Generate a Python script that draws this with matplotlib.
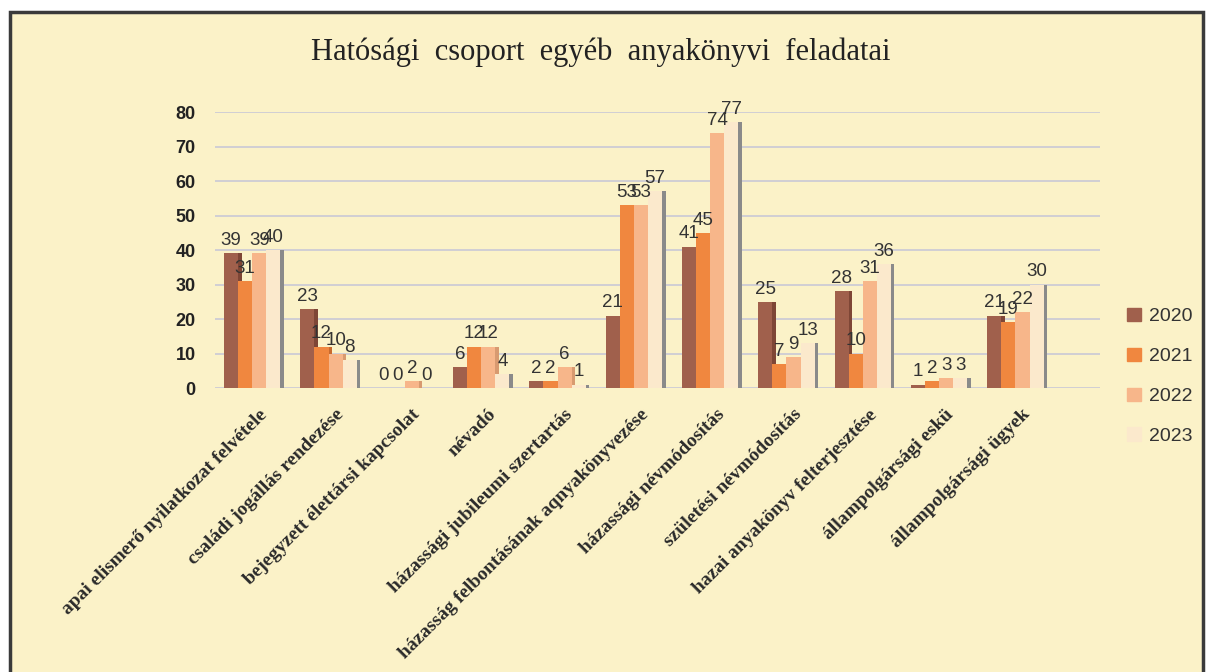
import matplotlib.pyplot as plt
import matplotlib.patches as mpatches
import numpy as np

categories = [
    "apai elismerő nyilatkozat felvétele",
    "családi jogállás rendezése",
    "bejegyzett élettársi kapcsolat",
    "névadó",
    "házassági jubileumi szertartás",
    "házasság felbontásának aqnyakönyvezése",
    "házassági névmódosítás",
    "születési névmódosítás",
    "hazai anyakönyv felterjesztése",
    "állampolgársági eskü",
    "állampolgársági ügyek",
]
years = ["2020", "2021", "2022", "2023"]
v2020 = [39, 23, 0, 6, 2, 21, 41, 25, 28, 1, 21]
v2021 = [31, 12, 0, 12, 2, 53, 45, 7, 10, 2, 19]
v2022 = [39, 10, 2, 12, 6, 53, 74, 9, 31, 3, 22]
v2023 = [40, 8, 0, 4, 1, 57, 77, 13, 36, 3, 30]
series = [v2020, v2021, v2022, v2023]

colors = ["#a0604c", "#f0873f", "#f7b68a", "#fbe9cc"]
side_colors = ["#7e4636", "#c86a2e", "#d89a70", "#8a8a8a"]
bg = "#fbf2c8"

fig = plt.figure(figsize=(12.09, 6.72), dpi=100, facecolor="white")
frame = mpatches.Rectangle((0.008, -0.01), 0.987, 0.992, transform=fig.transFigure,
                           facecolor=bg, edgecolor="#3a3a3a", linewidth=2.5, zorder=-5)
fig.patches.append(frame)

ax = fig.add_axes([0.178, 0.4226, 0.732, 0.4107])
ax.set_facecolor("none")
ax.set_zorder(2)

x = np.arange(len(categories))
w = 0.185
offsets = [-1.5 * w, -0.5 * w, 0.5 * w, 1.5 * w]

for i, vals in enumerate(series):
    xs = x + offsets[i]
    # dark side of the 3D bar
    ax.bar(xs + w / 2 + 0.02, vals, width=0.05, color=side_colors[i],
           zorder=2 + i, linewidth=0)
    ax.bar(xs, vals, width=w, color=colors[i], zorder=3 + i, linewidth=0,
           label=years[i])
    for xv, v in zip(xs, vals):
        ax.text(xv, v + 1.2, str(v), ha="center", va="bottom", fontsize=13.5,
                family="Liberation Sans", color="#333333", zorder=10)

ax.set_xlim(-0.485, 11.11)
ax.set_ylim(0, 80)
ax.set_yticks(range(0, 81, 10))
ax.yaxis.grid(True, color="#c9c9d6", linewidth=1.2)
ax.set_axisbelow(True)
for s in ax.spines.values():
    s.set_visible(False)
ax.tick_params(axis="y", length=0, pad=14, labelsize=13, labelcolor="#222222")
for lab in ax.get_yticklabels():
    lab.set_fontweight("bold")
    lab.set_family("Liberation Sans")

ax.set_xticks(x + 0.08)
ax.set_xticklabels(categories, rotation=45, ha="right", rotation_mode="anchor",
                   family="Liberation Serif", fontweight="bold", fontsize=14,
                   color="#2a2a2a")
ax.tick_params(axis="x", length=0, pad=13)

fig.text(0.497, 0.922, "Hatósági  csoport  egyéb  anyakönyvi  feladatai",
         ha="center", va="center", family="Liberation Serif", fontsize=22,
         color="#222222")

handles = [mpatches.Patch(color=c) for c in colors]
fig.legend(handles, years, loc="center left", bbox_to_anchor=(0.918, 0.44),
           frameon=False, handlelength=0.7, handleheight=0.7,
           labelspacing=1.15, handletextpad=0.4,
           prop={"family": "Liberation Sans", "size": 14}, labelcolor="#333333")

fig.savefig("out.png", dpi=100, facecolor=fig.get_facecolor())
